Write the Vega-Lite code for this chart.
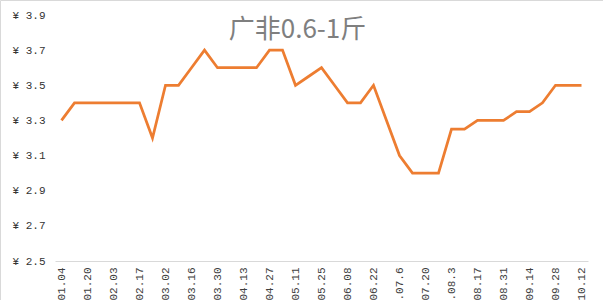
{
  "$schema": "https://vega.github.io/schema/vega-lite/v6.json",
  "width": 603,
  "height": 300,
  "autosize": {"type": "none"},
  "padding": 0,
  "background": "white",
  "title": {
    "text": "广非0.6-1斤",
    "font": "Noto Sans CJK SC",
    "fontSize": 26,
    "fontWeight": "normal",
    "color": "#7f7f7f",
    "anchor": "middle",
    "orient": "top",
    "baseline": "top",
    "offset": -43,
    "dx": -4
  },
  "data": {
    "values": [
      {"d": "01.04", "p": 3.3},
      {"d": "01.12", "p": 3.4},
      {"d": "01.20", "p": 3.4},
      {"d": "01.27", "p": 3.4},
      {"d": "02.03", "p": 3.4},
      {"d": "02.10", "p": 3.4},
      {"d": "02.17", "p": 3.4},
      {"d": "02.24", "p": 3.2},
      {"d": "03.02", "p": 3.5},
      {"d": "03.09", "p": 3.5},
      {"d": "03.16", "p": 3.6},
      {"d": "03.23", "p": 3.7},
      {"d": "03.30", "p": 3.6},
      {"d": "04.06", "p": 3.6},
      {"d": "04.13", "p": 3.6},
      {"d": "04.20", "p": 3.6},
      {"d": "04.27", "p": 3.7},
      {"d": "05.04", "p": 3.7},
      {"d": "05.11", "p": 3.5},
      {"d": "05.18", "p": 3.55},
      {"d": "05.25", "p": 3.6},
      {"d": "06.01", "p": 3.5},
      {"d": "06.08", "p": 3.4},
      {"d": "06.15", "p": 3.4},
      {"d": "06.22", "p": 3.5},
      {"d": "06.29", "p": 3.3},
      {"d": ".07.6", "p": 3.1},
      {"d": "07.13", "p": 3.0},
      {"d": "07.20", "p": 3.0},
      {"d": "07.27", "p": 3.0},
      {"d": ".08.3", "p": 3.25},
      {"d": "08.10", "p": 3.25},
      {"d": "08.17", "p": 3.3},
      {"d": "08.24", "p": 3.3},
      {"d": "08.31", "p": 3.3},
      {"d": "09.07", "p": 3.35},
      {"d": "09.14", "p": 3.35},
      {"d": "09.21", "p": 3.4},
      {"d": "09.28", "p": 3.5},
      {"d": "10.05", "p": 3.5},
      {"d": "10.12", "p": 3.5}
    ]
  },
  "mark": {"type": "line", "color": "#ED7D31", "strokeWidth": 2.75, "strokeJoin": "miter", "strokeCap": "butt"},
  "encoding": {
    "x": {
      "field": "d",
      "type": "ordinal",
      "sort": null,
      "scale": {"type": "point", "range": [55, 588], "padding": 0.5},
      "axis": {
        "title": null,
        "offset": -39,
        "values": ["01.04", "01.20", "02.03", "02.17", "03.02", "03.16", "03.30", "04.13", "04.27", "05.11", "05.25", "06.08", "06.22", ".07.6", "07.20", ".08.3", "08.17", "08.31", "09.14", "09.28", "10.12"],
        "labelAngle": -90,
        "labelFont": "Liberation Mono",
        "labelFontSize": 11,
        "labelColor": "#404040",
        "labelPadding": 6,
        "ticks": false,
        "domainColor": "#d9d9d9",
        "domainWidth": 1,
        "grid": false,
        "labelOverlap": false
      }
    },
    "y": {
      "field": "p",
      "type": "quantitative",
      "scale": {"domain": [2.5, 3.9], "range": [261, 15], "nice": false, "zero": false},
      "axis": {
        "title": null,
        "offset": -55,
        "values": [2.5, 2.7, 2.9, 3.1, 3.3, 3.5, 3.7, 3.9],
        "labelExpr": "'¥ ' + format(datum.value, '.1f')",
        "labelFont": "Liberation Mono",
        "labelFontSize": 11,
        "labelColor": "#333333",
        "labelPadding": 10,
        "ticks": false,
        "domain": false,
        "grid": false
      }
    }
  },
  "config": {
    "view": {"stroke": "#d9d9d9", "strokeWidth": 1}
  }
}
